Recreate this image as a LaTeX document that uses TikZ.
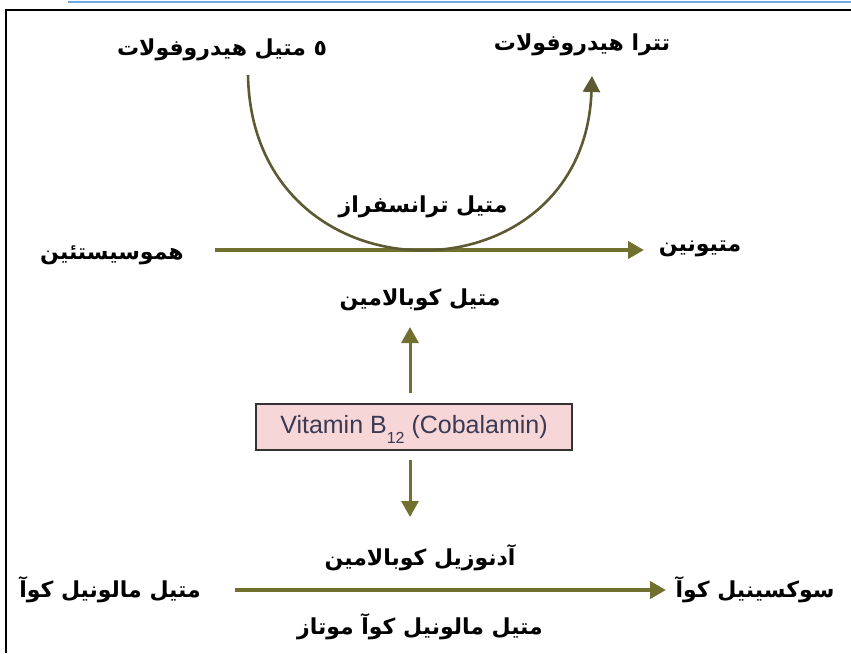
\documentclass[tikz,border=0pt]{standalone}
\usepackage{fontspec}
\usetikzlibrary{arrows.meta}
\TeXXeTstate=1
\newfontfamily\fa[Script=Arabic]{DejaVu Sans}
\setsansfont{Liberation Sans}
\definecolor{olive}{HTML}{72702E}
\definecolor{curvec}{HTML}{5C5A32}
\definecolor{boxfill}{HTML}{F6D6D6}
\definecolor{boxtext}{HTML}{3A3A55}
\definecolor{rulec}{HTML}{6FA8DC}
\tikzset{
  lbl/.style={font=\fa\bfseries\fontsize{22}{26}\selectfont, inner sep=0pt},
  flow/.style={draw=olive, line width=4pt, -{Triangle[length=16pt,width=17pt]}},
  turn/.style={draw=curvec, line width=2.6pt},
}
\newcommand{\rtl}[1]{\beginR #1\endR}
\newcommand{\lowsub}[1]{\smash{\raisebox{-0.42em}{\fontsize{16}{18}\selectfont #1}}}
\begin{document}
\begin{tikzpicture}[x=1pt,y=-1pt]
  \useasboundingbox (0,0) rectangle (851,653);
  \fill[white] (0,0) rectangle (851,653);
  % page frame
  \draw[rulec, line width=2pt] (68,2) -- (851,2);
  \draw[black, line width=2pt] (851,10) -- (6,10) -- (6,653);

  % labels
  \node[lbl] (mthf) at (222,50) {\rtl{٥ متیل هیدروفولات}};
  \node[lbl] (thf) at (582,45) {\rtl{تترا هیدروفولات}};
  \node[lbl] (hcy) at (112,255) {\rtl{هموسیستئین}};
  \node[lbl] (met) at (700,249) {\rtl{متیونین}};
  \node[lbl] (mtr) at (423,207) {\rtl{متیل ترانسفراز}};
  \node[lbl] (mecbl) at (420,300) {\rtl{متیل کوبالامین}};
  \node[lbl] (adocbl) at (420,558) {\rtl{آدنوزیل کوبالامین}};
  \node[lbl] (mmcoa) at (110,590) {\rtl{متیل مالونیل کوآ}};
  \node[lbl] (succoa) at (755,590) {\rtl{سوکسینیل کوآ}};
  \node[lbl] (mut) at (420,627) {\rtl{متیل مالونیل کوآ موتاز}};

  % vitamin box
  \node[draw=black!80, line width=1.3pt, fill=boxfill, minimum width=316pt,
        minimum height=46pt, inner sep=0pt, text=boxtext,
        font=\sffamily\fontsize{25}{28}\selectfont] (b12) at (414,427)
        {Vitamin B\lowsub{12} (Cobalamin)};

  % arrow end points
  \coordinate (hcyend) at (215,250);
  \coordinate (metend) at (644,250);
  \coordinate (mmend) at (235,590);
  \coordinate (sucend) at (666,590);
  \coordinate (upfrom) at (410,393);
  \coordinate (upto) at (410,327);
  \coordinate (dnfrom) at (410,460);
  \coordinate (dnto) at (410,517);
  \coordinate (cstart) at (248,75);
  \coordinate (cend) at (592,76);

  % methyl transfer
  \draw[flow] (hcyend) -- (metend);
  \draw[turn, -{Triangle[length=16pt,width=17pt]}] (cstart)
     .. controls (252,306) and (584,306) .. (cend);

  % cofactor branches
  \draw[flow, line width=3pt] (upfrom) -- (upto);
  \draw[flow, line width=3pt] (dnfrom) -- (dnto);

  % mutase reaction
  \draw[flow] (mmend) -- (sucend);
\end{tikzpicture}
\end{document}
